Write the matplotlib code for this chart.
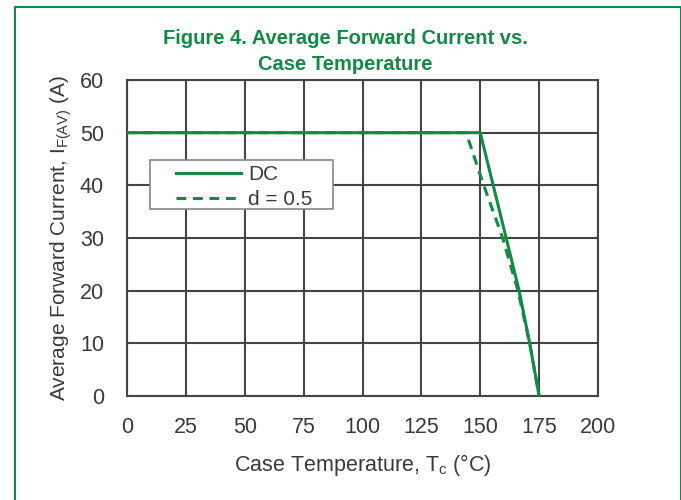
import matplotlib
matplotlib.use("Agg")
import matplotlib.pyplot as plt
from matplotlib.patches import Rectangle

plt.rcParams['font.family'] = ['Liberation Sans', 'DejaVu Sans']
plt.rcParams['mathtext.fontset'] = 'custom'
plt.rcParams['mathtext.rm'] = 'Liberation Sans'

GREEN = '#128a46'
GRAY_TXT = '#3a3a3a'
GRID = '#444444'

# DC curve (case temperature in C, current in A)
dc_temp = [0, 150, 155.5, 161, 166.5, 171, 175]
dc_current = [50, 50, 40, 30, 20, 10, 0]

# duty cycle 0.5 curve
d05_temp = [0, 144, 151.5, 159.5, 166, 171, 175]
d05_current = [50, 50, 40, 30, 20, 10, 0]

x_ticks = [0, 25, 50, 75, 100, 125, 150, 175, 200]
y_ticks = [0, 10, 20, 30, 40, 50, 60]

fig = plt.figure(figsize=(6.81, 5.0), dpi=100)
ax = fig.add_axes([127/681, 1-396/500, 471/681, 316/500])

ax.plot(dc_temp, dc_current, color=GREEN, lw=2.2, label='DC', zorder=3)
ax.plot(d05_temp, d05_current, color=GREEN, lw=2.2, ls=(0, (3.2, 2.2)),
        label='d = 0.5', zorder=3)

ax.set_xlim(0, 200)
ax.set_ylim(0, 60)
ax.set_xticks(x_ticks)
ax.set_yticks(y_ticks)
ax.grid(True, color=GRID, lw=1.5)
ax.tick_params(length=0, labelsize=15.5, labelcolor=GRAY_TXT)
ax.tick_params(axis='x', pad=15)
ax.tick_params(axis='y', pad=16.5)
for s in ax.spines.values():
    s.set_color(GRID)
    s.set_linewidth(1.5)

ax.set_xlabel('Case Temperature, T$_{\\mathregular{c}}$ (°C)', fontsize=15.5,
              color=GRAY_TXT, labelpad=10)
ax.set_ylabel('Average Forward Current, I$_{\\mathregular{F(AV)}}$ (A)',
              fontsize=15, color=GRAY_TXT, labelpad=4)

# legend box drawn separately so the side padding can be wider
ax.add_patch(Rectangle(((150-127)/471, (396-209)/316), 183/471, 49/316,
                       transform=ax.transAxes, facecolor='white',
                       edgecolor='#888888', lw=1.2, zorder=4))
leg = ax.legend(loc='upper left', bbox_to_anchor=(49/471, (396-165)/316),
                fontsize=15, frameon=False, handlelength=3.1,
                labelcolor=GRAY_TXT, borderpad=0, labelspacing=0.3,
                handletextpad=0.35, borderaxespad=0)
leg.set_zorder(5)

fig.text(345/681, 1-38/500, 'Figure 4. Average Forward Current vs.',
         ha='center', va='center', fontsize=14.5, fontweight='bold',
         color=GREEN)
fig.text(345/681, 1-64/500, 'Case Temperature',
         ha='center', va='center', fontsize=14.5, fontweight='bold',
         color=GREEN)

fig.patches.append(Rectangle((15/681, -0.05), 665.5/681, 1.05 - 7.5/500,
                             transform=fig.transFigure, fill=False,
                             edgecolor=GREEN, lw=1.5))

fig.savefig('out.png', dpi=100)
